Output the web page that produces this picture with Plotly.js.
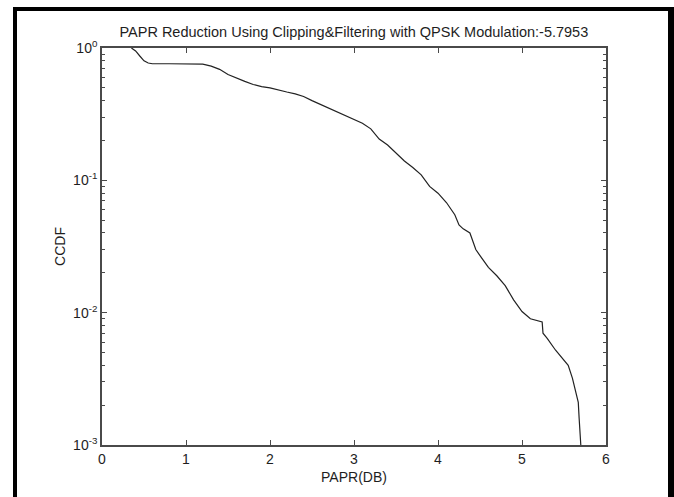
<!DOCTYPE html>
<html>
<head>
<meta charset="utf-8">
<script src="https://cdn.plot.ly/plotly-3.0.1.min.js"></script>
<style>
html,body{margin:0;padding:0;background:#fff;overflow:hidden;}
#wrap{position:relative;width:674px;height:497px;}
#chart{width:674px;height:497px;}
#frame{position:absolute;left:13px;top:7px;width:661px;height:520px;box-sizing:border-box;border-left:4px solid #000;border-top:4px solid #000;border-right:6px solid #000;pointer-events:none;}
</style>
</head>
<body>
<div id="wrap"><div id="chart"></div><div id="frame"></div></div>
<script>
const papr = [0.35,0.40,0.45,0.50,0.55,0.60,0.8,1.0,1.2,1.3,1.4,1.5,1.6,1.7,1.8,1.9,2.0,2.1,2.2,2.3,2.4,2.5,2.6,2.7,2.8,2.9,3.0,3.1,3.2,3.3,3.4,3.5,3.6,3.7,3.8,3.9,4.0,4.1,4.2,4.25,4.3,4.38,4.45,4.5,4.6,4.7,4.8,4.9,5.0,5.1,5.24,5.25,5.3,5.4,5.5,5.55,5.6,5.65,5.67,5.68,5.69,5.70];
const ccdf = [1.0,0.95,0.87,0.80,0.77,0.76,0.76,0.76,0.755,0.73,0.69,0.63,0.59,0.56,0.53,0.51,0.50,0.48,0.465,0.45,0.43,0.40,0.375,0.35,0.33,0.31,0.29,0.27,0.245,0.205,0.185,0.16,0.14,0.125,0.11,0.09,0.08,0.068,0.055,0.046,0.043,0.040,0.030,0.027,0.022,0.019,0.016,0.0125,0.0102,0.0090,0.0085,0.0070,0.0064,0.0052,0.0044,0.0040,0.0032,0.0024,0.0021,0.0016,0.0012,0.001];
const yTickVals = [1,0.1,0.01,0.001];
const yTickText = ['10<sup>0</sup>','10<sup>-1</sup>','10<sup>-2</sup>','10<sup>-3</sup>'];
const yMinorVals = [0.002,0.003,0.004,0.005,0.006,0.007,0.008,0.009,0.02,0.03,0.04,0.05,0.06,0.07,0.08,0.09,0.2,0.3,0.4,0.5,0.6,0.7,0.8,0.9];
const xTickVals = [0,1,2,3,4,5,6];
const titleText = 'PAPR Reduction Using Clipping&amp;Filtering with QPSK Modulation:-5.7953';

const axisColor = '#4a4a4a';
const fam = 'Liberation Sans, Arial, sans-serif';
const txt = '#1e1e1e';

Plotly.newPlot('chart', [{
  x: papr, y: ccdf, type:'scatter', mode:'lines',
  line:{color:'#222', width:1.2}, hoverinfo:'skip'
}], {
  width:674, height:497,
  margin:{l:102, r:68, t:48, b:52},
  paper_bgcolor:'#fff', plot_bgcolor:'#fff',
  showlegend:false,
  font:{family:fam, size:14, color:txt},
  title:{text:titleText, x:0.525, xanchor:'center', y:1-32/497, yanchor:'middle', yref:'container', font:{family:fam, size:14.5, color:txt}},
  xaxis:{
    range:[0,6], tickvals:xTickVals, ticks:'inside', ticklen:5, tickwidth:1, tickcolor:axisColor,
    showline:true, linecolor:axisColor, linewidth:1.8, mirror:'ticks', showgrid:false, zeroline:false,
    tickfont:{family:fam, size:14, color:txt},
    title:{text:'PAPR(DB)', standoff:7, font:{family:fam, size:14, color:txt}}
  },
  yaxis:{
    type:'log', range:[-3,0], tickvals:yTickVals, ticktext:yTickText, ticks:'inside', ticklen:5, tickwidth:1, tickcolor:axisColor,
    showline:true, linecolor:axisColor, linewidth:1.8, mirror:'ticks', showgrid:false, zeroline:false,
    tickfont:{family:fam, size:14, color:txt},
    minor:{tickvals:yMinorVals, ticks:'inside', ticklen:3, tickwidth:1, tickcolor:axisColor, showgrid:false},
    title:{text:'CCDF', standoff:4, font:{family:fam, size:14, color:txt}}
  }
}, {staticPlot:true, displayModeBar:false});
</script>
</body>
</html>
